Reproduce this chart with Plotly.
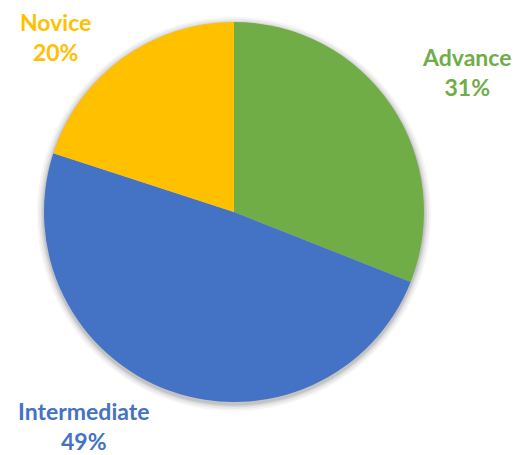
import plotly.graph_objects as go

# Skill level distribution
levels = ["Advance", "Intermediate", "Novice"]
shares = [31, 49, 20]
colors = ["#70AD47", "#4472C4", "#FFC000"]

# label centre positions (paper coords) for each slice
label_x = [466 / 516, 83 / 516, 55 / 516]
label_y = [1 - 72 / 455, 1 - 426 / 455, 1 - 37 / 455]

fig = go.Figure(
    go.Pie(
        labels=levels,
        values=shares,
        sort=False,
        direction="clockwise",
        rotation=0,
        marker=dict(colors=colors, line=dict(width=0)),
        textinfo="none",
        hoverinfo="label+percent",
        showlegend=False,
        domain=dict(x=[44 / 516, 424 / 516], y=[1 - 402 / 455, 1 - 22 / 455]),
    )
)

# soft drop shadow behind the pie
cx, cy, r = 234 / 516, 1 - 213 / 455, 190
for grow, op in [(7, 0.04), (5, 0.05), (3, 0.07), (1.5, 0.09)]:
    rr = r + grow
    fig.add_shape(
        type="circle", xref="paper", yref="paper", layer="below",
        x0=cx - rr / 516, x1=cx + rr / 516,
        y0=cy - rr / 455 - 1 / 455, y1=cy + rr / 455 - 1 / 455,
        line=dict(width=0), fillcolor=f"rgba(0,0,0,{op})",
    )

total = sum(shares)
for name, val, col, lx, ly in zip(levels, shares, colors, label_x, label_y):
    fig.add_annotation(
        x=lx, y=ly, xref="paper", yref="paper",
        xanchor="center", yanchor="middle",
        text=f"<b>{name}<br>{round(100 * val / total)}%</b>",
        showarrow=False, align="center",
        font=dict(family="Lato", size=23, color=col),
    )

fig.update_layout(
    width=516, height=455,
    margin=dict(l=0, r=0, t=0, b=0),
    paper_bgcolor="white", plot_bgcolor="white",
)

fig.write_html("out.html")
